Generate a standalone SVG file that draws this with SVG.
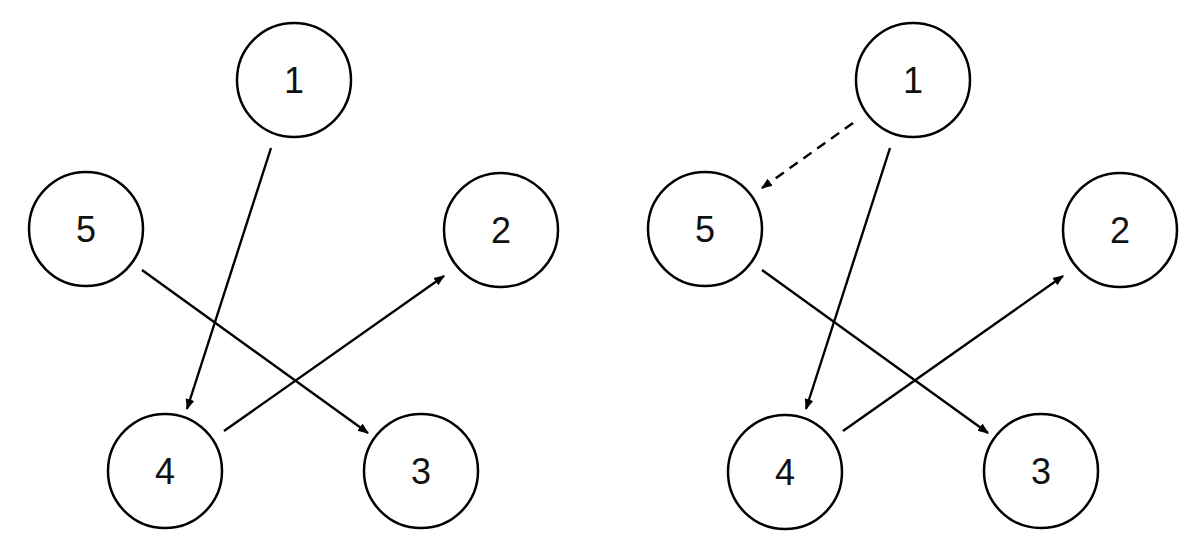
<svg xmlns="http://www.w3.org/2000/svg" width="1200" height="556" viewBox="0 0 1200 556">
<style>
.n circle{fill:#fff;stroke:#000;stroke-width:2.5}
.n text{font-family:"Liberation Sans",Arial,sans-serif;font-size:36px;fill:#111;text-anchor:middle;dominant-baseline:central}
.e{stroke:#000;stroke-width:2.4;fill:none;marker-end:url(#ah)}
.d{stroke-dasharray:10,7}
</style>
<defs>
<marker id="ah" viewBox="0 0 10 10" refX="9" refY="5" markerWidth="4.6" markerHeight="4.6" orient="auto" markerUnits="strokeWidth">
<path d="M0,1 L10,5 L0,9 z" fill="#000"/>
</marker>
</defs>
<g id="connectors">
<line class="e" x1="271" y1="148" x2="187" y2="409"/>
<line class="e" x1="224" y1="431" x2="444" y2="276"/>
<line class="e" x1="142" y1="270" x2="368" y2="433"/>
<line class="e d" x1="853" y1="123" x2="762" y2="188"/>
<line class="e" x1="890" y1="148" x2="806" y2="409"/>
<line class="e" x1="843" y1="431" x2="1063" y2="276"/>
<line class="e" x1="762" y1="270" x2="988" y2="433"/>
</g>
<g id="L1" class="n"><circle cx="294" cy="80" r="57"/><text x="294" y="80">1</text></g>
<g id="L2" class="n"><circle cx="501" cy="230" r="57"/><text x="501" y="230">2</text></g>
<g id="L3" class="n"><circle cx="421" cy="471" r="57"/><text x="421" y="471">3</text></g>
<g id="L4" class="n"><circle cx="165" cy="471" r="57"/><text x="165" y="471">4</text></g>
<g id="L5" class="n"><circle cx="86" cy="229" r="57"/><text x="86" y="229">5</text></g>
<g id="R1" class="n"><circle cx="913" cy="80" r="57"/><text x="913" y="80">1</text></g>
<g id="R2" class="n"><circle cx="1120" cy="230" r="57"/><text x="1120" y="230">2</text></g>
<g id="R3" class="n"><circle cx="1041" cy="471" r="57"/><text x="1041" y="471">3</text></g>
<g id="R4" class="n"><circle cx="785" cy="472" r="57"/><text x="785" y="472">4</text></g>
<g id="R5" class="n"><circle cx="705" cy="229" r="57"/><text x="705" y="229">5</text></g>
</svg>
